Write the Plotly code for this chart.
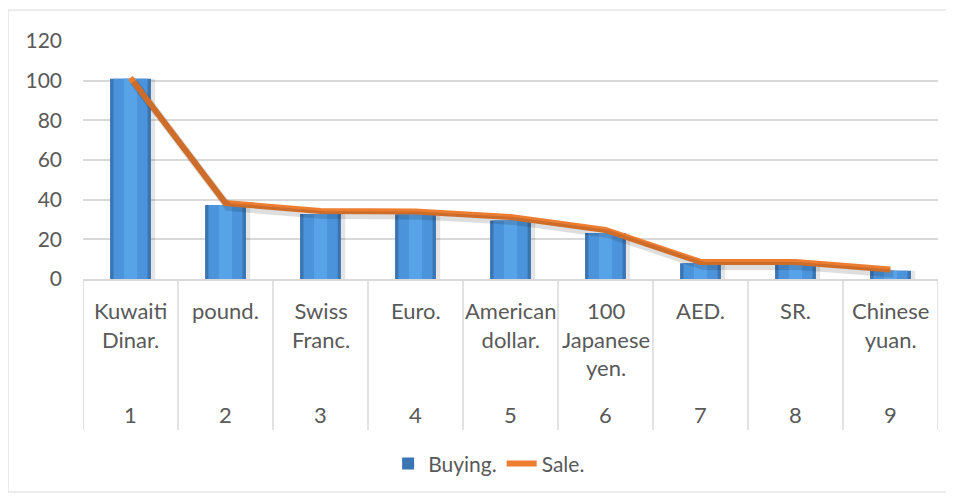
import plotly.graph_objects as go

# Veri
numbers = ["1", "2", "3", "4", "5", "6", "7", "8", "9"]
currencies = [
    "Kuwaiti<br>Dinar.", "pound.", "Swiss<br>Franc.", "Euro.", "American<br>dollar.",
    "100<br>Japanese<br>yen.", "AED.", "SR.", "Chinese<br>yuan.",
]
buying = [101.0, 37.3, 32.8, 32.6, 29.5, 23.2, 8.0, 8.0, 4.2]
sale = [101.5, 38.3, 34.3, 34.0, 31.3, 24.7, 8.6, 8.6, 4.8]
y_ticks = [0, 20, 40, 60, 80, 100, 120]

GRID = "#d9d9d9"
TEXT = "#595959"
FONT = "Lato"

fig = go.Figure()

# bar golgesi
fig.add_trace(go.Bar(
    x=numbers, y=buying, width=0.46, offset=-0.2,
    marker=dict(color="rgba(0,0,0,0.10)", line=dict(width=0)),
    showlegend=False, hoverinfo="skip",
))
# silindir gorunumu icin ic ice barlar
fig.add_trace(go.Bar(
    x=numbers, y=buying, width=0.43, name="Buying.",
    marker=dict(color="#3a74b2", line=dict(width=0)),
))
fig.add_trace(go.Bar(
    x=numbers, y=buying, width=0.36,
    marker=dict(color="#4b93da", line=dict(width=0)),
    showlegend=False, hoverinfo="skip",
))
fig.add_trace(go.Bar(
    x=numbers, y=buying, width=0.14,
    marker=dict(color="#58a3e8", line=dict(width=0)),
    showlegend=False, hoverinfo="skip",
))

# cizgi golgesi (kaydirilmis eksende)
fig.add_trace(go.Scatter(
    x=numbers, y=sale, mode="lines", xaxis="x2", yaxis="y2",
    line=dict(color="rgba(0,0,0,0.13)", width=8),
    showlegend=False, hoverinfo="skip",
))
fig.add_trace(go.Scatter(
    x=numbers, y=sale, mode="lines", name="Sale.",
    line=dict(color="#ed7d31", width=6),
))

shapes = [
    dict(type="rect", xref="paper", yref="paper",
         x0=-0.0877, x1=1.0129, y0=-0.895, y1=1.13,
         line=dict(color=GRID, width=1), fillcolor="rgba(0,0,0,0)", layer="below"),
]
for i in range(len(numbers) + 1):
    shapes.append(dict(type="line", xref="x", yref="paper",
                       x0=i - 0.5, x1=i - 0.5, y0=0, y1=-0.634,
                       line=dict(color=GRID, width=1.5)))

annotations = []
for i, (num, cur) in enumerate(zip(numbers, currencies)):
    annotations.append(dict(x=i, xref="x", y=-0.068, yref="paper", yanchor="top",
                            text=cur, showarrow=False,
                            font=dict(family=FONT, size=22, color=TEXT)))
    annotations.append(dict(x=i, xref="x", y=-0.571, yref="paper", yanchor="middle",
                            text=num, showarrow=False,
                            font=dict(family=FONT, size=22, color=TEXT)))

fig.update_layout(
    width=946, height=489,
    margin=dict(l=75, r=16, t=33, b=218),
    paper_bgcolor="white", plot_bgcolor="white",
    barmode="overlay",
    font=dict(family=FONT, size=21, color=TEXT),
    xaxis=dict(type="category", range=[-0.5, 8.5], showticklabels=False,
               showgrid=False, showline=True, linecolor=GRID, linewidth=1.5,
               zeroline=False, fixedrange=True),
    xaxis2=dict(type="category", range=[-0.53, 8.47], overlaying="x", visible=False),
    yaxis=dict(range=[0, 120], tickvals=y_ticks, showgrid=True, gridcolor=GRID,
               gridwidth=1.5, zeroline=False, showline=False, ticks="",
               ticklabelstandoff=20, tickfont=dict(family=FONT, size=21, color=TEXT)),
    yaxis2=dict(range=[2.0, 122.0], overlaying="y", visible=False),
    legend=dict(orientation="h", x=0.475, xanchor="center", y=-0.777, yanchor="middle",
                font=dict(family=FONT, size=21, color=TEXT), traceorder="normal"),
    shapes=shapes,
    annotations=annotations,
)

fig.write_html("out.html")
